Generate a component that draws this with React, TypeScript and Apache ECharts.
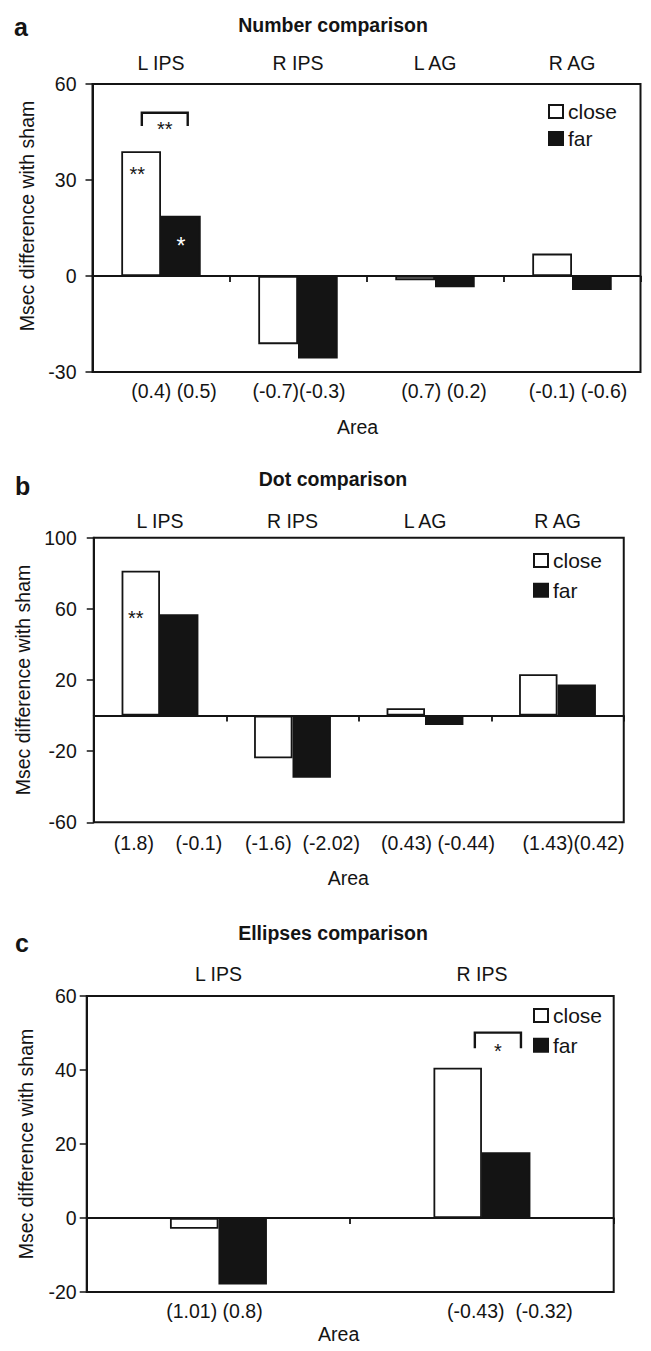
import React, { useEffect, useRef } from "react";
import * as echarts from "echarts";

const FONT = '"Liberation Sans", Arial, Helvetica, sans-serif';
const INK = "#141414";

const SERIES_NAMES = ["close", "far"];
const Y_NAME = "Msec difference with sham";
const X_NAME = "Area";

// ---- Panel a: Number comparison
const letterA = "a";
const titleA = "Number comparison";
const areasA = ["L IPS", "R IPS", "L AG", "R AG"];
const closeA = [39, -21.3, -1.3, 7];
const farA = [18.8, -25.8, -3.5, -4.4];
const statsA = ["(0.4) (0.5)", "(-0.7)(-0.3)", "(0.7) (0.2)", "(-0.1) (-0.6)"];
const closeStarsA = ["**", "", "", ""];
const farStarsA = ["*", "", "", ""];
const yRangeA = [-30, 60];
const yTicksA = [-30, 0, 30, 60];
const bracketA = [0, 51, 46.9]; // category index, bracket top, leg end
const bracketStarsA = "**";

// ---- Panel b: Dot comparison
const letterB = "b";
const titleB = "Dot comparison";
const areasB = ["L IPS", "R IPS", "L AG", "R AG"];
const closeB = [81.4, -24.0, 4.1, 23.2];
const farB = [56.9, -34.9, -5.3, 17.4];
const statsB = ["(1.8)    (-0.1)", "(-1.6)  (-2.02)", "(0.43) (-0.44)", "(1.43)(0.42)"];
const closeStarsB = ["**", "", "", ""];
const farStarsB = ["", "", "", ""];
const yRangeB = [-60, 100];
const yTicksB = [-60, -20, 20, 60, 100];

// ---- Panel c: Ellipses comparison
const letterC = "c";
const titleC = "Ellipses comparison";
const areasC = ["L IPS", "R IPS"];
const closeC = [-2.9, 40.6];
const farC = [-18.0, 17.8];
const statsC = ["(1.01) (0.8)", "(-0.43)  (-0.32)"];
const closeStarsC = ["", ""];
const farStarsC = ["", ""];
const yRangeC = [-20, 60];
const yTicksC = [-20, 0, 20, 40, 60];
const bracketC = [1, 50.1, 45.9];
const bracketStarsC = "*";

const panels = [
  { letter: letterA, title: titleA, areas: areasA, close: closeA, far: farA, stats: statsA, closeStars: closeStarsA, farStars: farStarsA, yRange: yRangeA, yTicks: yTicksA, bracket: bracketA, bracketStars: bracketStarsA },
  { letter: letterB, title: titleB, areas: areasB, close: closeB, far: farB, stats: statsB, closeStars: closeStarsB, farStars: farStarsB, yRange: yRangeB, yTicks: yTicksB, bracket: null, bracketStars: "" },
  { letter: letterC, title: titleC, areas: areasC, close: closeC, far: farC, stats: statsC, closeStars: closeStarsC, farStars: farStarsC, yRange: yRangeC, yTicks: yTicksC, bracket: bracketC, bracketStars: bracketStarsC },
];

// ---- layout (styles / positions only)
const layouts = [
  {
    grid: { left: 92.5, top: 84, width: 548, height: 288 },
    barWidth: "29%",
    statPad: [[0, 0, 0, 26], [0, 0, 0, 2], [0, 0, 0, 18], [0, 0, 0, 12]],
    statMargin: 9, topMargin: 11, areaGap: 45, areaPad: [0, 18, 0, 0],
    yLabelMargin: 16, yNameGap: 56, yNamePad: [0, 0, 0, 24],
    legend: { left: 548, top: 101, itemGap: 6 },
    titleY: 25, letterX: 14, letterY: 27,
    closeStarPos: ["40%", 23], bracketSpan: [-0.14, 0.195],
  },
  {
    grid: { left: 93.75, top: 537.7, width: 530, height: 284.6 },
    barWidth: "29%",
    statPad: [[0, 0, 0, 16], [0, 0, 0, 20], [0, 0, 0, 26], [0, 0, 0, 32]],
    statMargin: 11, topMargin: 7, areaGap: 46, areaPad: [0, 21, 0, 0],
    yLabelMargin: 17, yNameGap: 57, yNamePad: [0, 0, 0, 0],
    legend: { left: 533, top: 550, itemGap: 8.7 },
    titleY: 479, letterX: 15, letterY: 486,
    closeStarPos: ["37%", 47], bracketSpan: [0, 0],
  },
  {
    grid: { left: 86.7, top: 996, width: 527, height: 296 },
    barWidth: "18.4%",
    statPad: [[0, 8, 0, 0], [0, 0, 0, 56]],
    statMargin: 9, topMargin: 12, areaGap: 32, areaPad: [0, 23, 0, 0],
    yLabelMargin: 10, yNameGap: 51, yNamePad: [0, 0, 0, 0],
    legend: { left: 533, top: 1005, itemGap: 8.7 },
    titleY: 933, letterX: 15, letterY: 943,
    closeStarPos: ["50%", 20], bracketSpan: [-0.027, 0.148],
  },
];

function buildOption() {
  const grid: any[] = [];
  const xAxis: any[] = [];
  const yAxis: any[] = [];
  const series: any[] = [];
  const legend: any[] = [];
  const graphic: any[] = [];
  const baseText = { fontFamily: FONT, fontSize: 19.5, color: INK };

  panels.forEach((p, i) => {
    const L = layouts[i];
    grid.push({ ...L.grid, show: true, borderColor: INK, borderWidth: 2, backgroundColor: "transparent" });

    // bottom axis: statistics labels + "Area"
    xAxis.push({
      type: "category", gridIndex: i, position: "bottom",
      data: p.stats.map((s, k) => ({ value: s, textStyle: { padding: L.statPad[k] } })),
      axisLine: { show: false, onZero: false }, axisTick: { show: false },
      axisLabel: { ...baseText, interval: 0, margin: L.statMargin, hideOverlap: false },
      name: X_NAME, nameLocation: "middle", nameGap: L.areaGap,
      nameTextStyle: { ...baseText, padding: L.areaPad },
    });
    // top axis: area names
    xAxis.push({
      type: "category", gridIndex: i, position: "top", data: p.areas,
      axisLine: { show: false, onZero: false }, axisTick: { show: false },
      axisLabel: { ...baseText, interval: 0, margin: L.topMargin },
    });
    // zero line axis with ticks between categories
    xAxis.push({
      type: "category", gridIndex: i, position: "bottom", data: p.areas,
      axisLine: { show: true, onZero: true, lineStyle: { color: INK, width: 1.8 } },
      axisTick: { show: true, length: 6, lineStyle: { color: INK, width: 1.8 } },
      axisLabel: { show: false },
    });

    yAxis.push({
      type: "value", gridIndex: i, position: "left",
      min: p.yRange[0], max: p.yRange[1],
      axisLine: { show: true, lineStyle: { color: INK, width: 2 } },
      axisTick: { show: true, length: 7, lineStyle: { color: INK, width: 1.5 }, customValues: p.yTicks },
      axisLabel: { ...baseText, margin: L.yLabelMargin, customValues: p.yTicks },
      splitLine: { show: false },
      name: Y_NAME, nameLocation: "middle", nameGap: L.yNameGap,
      nameTextStyle: { ...baseText, padding: L.yNamePad },
    });

    const xi = 3 * i + 2;
    series.push({
      type: "bar", name: SERIES_NAMES[0], xAxisIndex: xi, yAxisIndex: i,
      barWidth: L.barWidth, barGap: "0%",
      itemStyle: { color: "#ffffff", borderColor: INK, borderWidth: 1.8 },
      data: p.close.map((v, k) =>
        p.closeStars[k]
          ? { value: v, label: { show: true, formatter: p.closeStars[k], position: L.closeStarPos, align: "center", verticalAlign: "middle", fontFamily: FONT, fontSize: 20, color: INK } }
          : v
      ),
    });
    series.push({
      type: "bar", name: SERIES_NAMES[1], xAxisIndex: xi, yAxisIndex: i,
      barWidth: L.barWidth, barGap: "0%",
      itemStyle: { color: INK, borderColor: INK, borderWidth: 1.8 },
      data: p.far.map((v, k) =>
        p.farStars[k]
          ? { value: v, label: { show: true, formatter: p.farStars[k], position: "inside", fontFamily: FONT, fontSize: 23, color: "#ffffff" } }
          : v
      ),
    });

    if (p.bracket) {
      const span = L.bracketSpan;
      const stars = p.bracketStars;
      series.push({
        type: "custom", xAxisIndex: xi, yAxisIndex: i, silent: true, z: 5,
        data: [p.bracket],
        renderItem: (params: any, api: any) => {
          const c = api.value(0);
          const top = api.coord([c, api.value(1)]);
          const leg = api.coord([c, api.value(2)]);
          const band = api.size([1, 0])[0];
          const x1 = top[0] + span[0] * band;
          const x2 = top[0] + span[1] * band;
          return {
            type: "group",
            children: [
              {
                type: "polyline",
                shape: { points: [[x1, leg[1]], [x1, top[1]], [x2, top[1]], [x2, leg[1]]] },
                style: { stroke: INK, lineWidth: 2.4, fill: null },
              },
              {
                type: "text",
                style: { text: stars, x: (x1 + x2) / 2, y: leg[1] + 3, align: "center", verticalAlign: "middle", fontFamily: FONT, fontSize: 20, fill: INK },
              },
            ],
          };
        },
      });
    }

    legend.push({
      data: SERIES_NAMES, left: L.legend.left, top: L.legend.top, orient: "vertical",
      icon: "rect", itemWidth: 14, itemHeight: 13, itemGap: L.legend.itemGap, padding: 0,
      selectedMode: false, textStyle: { fontFamily: FONT, fontSize: 21, color: INK },
    });

    graphic.push({
      type: "text", x: 333, y: L.titleY,
      style: { text: p.title, align: "center", verticalAlign: "middle", fontFamily: FONT, fontSize: 19.5, fontWeight: "bold", fill: INK },
    });
    graphic.push({
      type: "text", x: L.letterX, y: L.letterY,
      style: { text: p.letter, align: "left", verticalAlign: "middle", fontFamily: FONT, fontSize: 25, fontWeight: "bold", fill: INK },
    });
  });

  return { animation: false, backgroundColor: "#ffffff", grid, xAxis, yAxis, series, legend, graphic };
}

export default function App() {
  const ref = useRef<HTMLDivElement>(null);
  useEffect(() => {
    document.body.style.margin = "0";
    const chart = echarts.init(ref.current!, undefined, { renderer: "svg" });
    chart.setOption(buildOption() as any);
    return () => chart.dispose();
  }, []);
  return <div ref={ref} style={{ width: 651, height: 1351 }} />;
}
